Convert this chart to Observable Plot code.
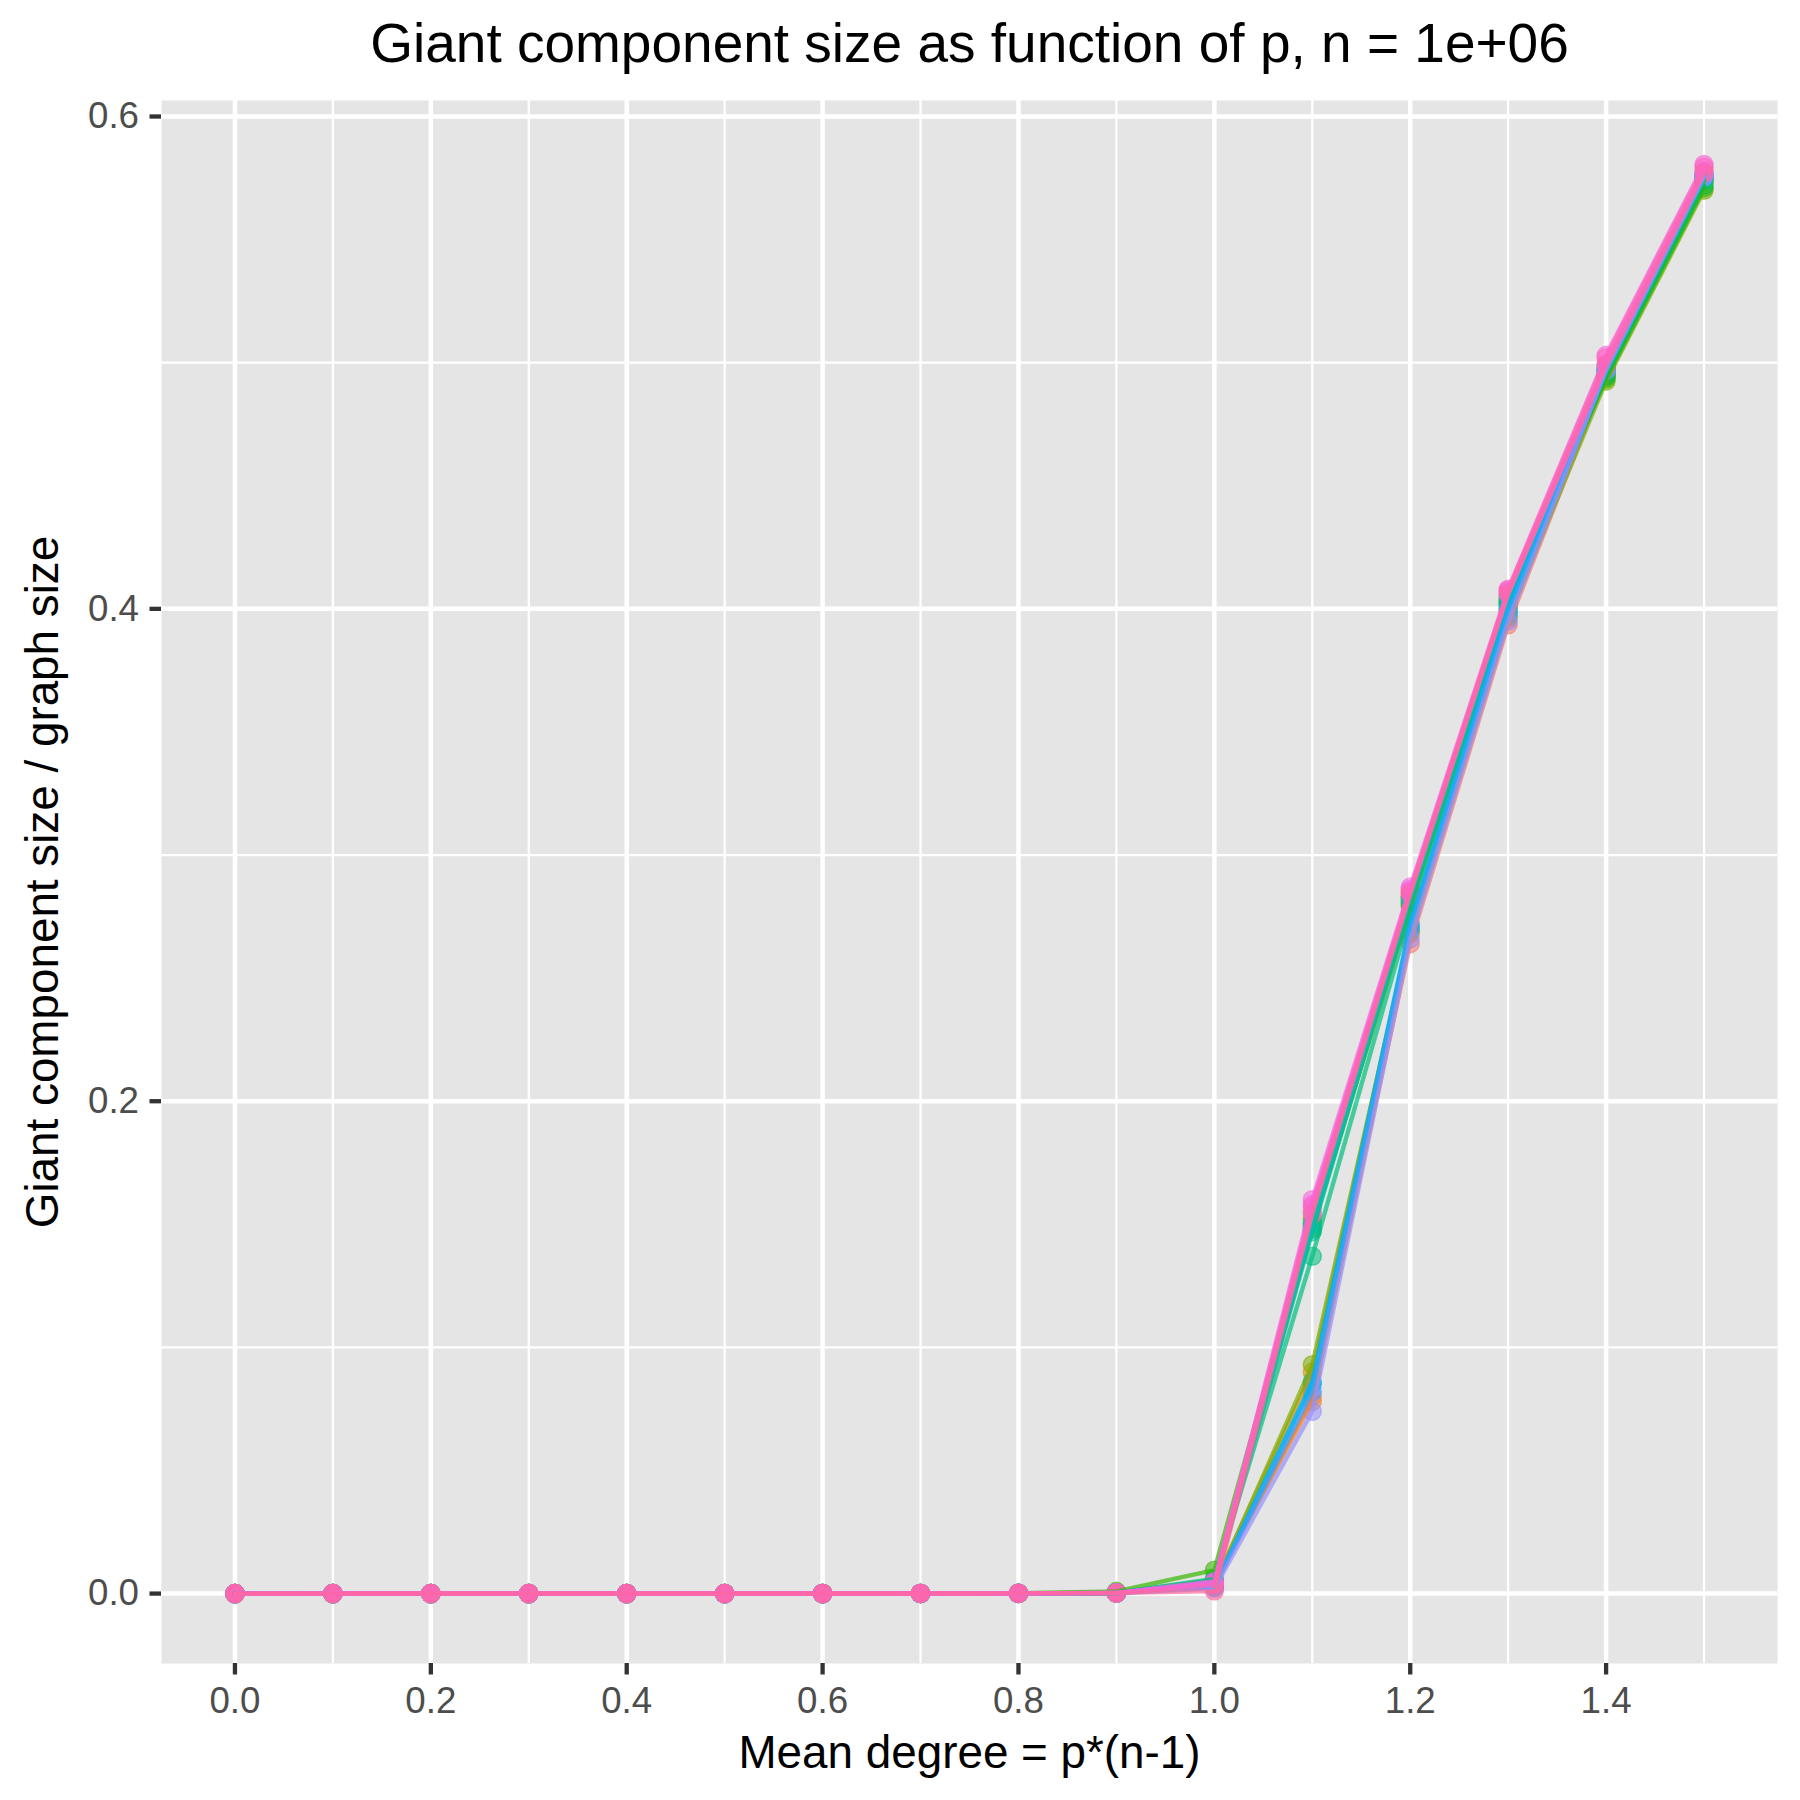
<!DOCTYPE html>
<html>
<head>
<meta charset="utf-8">
<script src="https://cdn.jsdelivr.net/npm/d3@7"></script>
<script src="https://cdn.jsdelivr.net/npm/@observablehq/plot@0.6"></script>
<style>
  html, body { margin: 0; padding: 0; background: white; }
</style>
</head>
<body>
<div id="chart"></div>
<script>
// ---- data ----
const meanDegree = [0.0, 0.1, 0.2, 0.3, 0.4, 0.5, 0.6, 0.7, 0.8, 0.9, 1.0, 1.1, 1.2, 1.3, 1.4, 1.5];

const run01 = [0.000001, 0.000005, 0.000007, 0.000010, 0.000014, 0.000020, 0.000029, 0.000044, 0.000080, 0.00024, 0.0030, 0.0800, 0.2640, 0.3935, 0.4950, 0.5745];
const run02 = [0.000001, 0.000004, 0.000008, 0.000011, 0.000015, 0.000019, 0.000031, 0.000047, 0.000088, 0.00021, 0.0045, 0.0780, 0.2680, 0.3960, 0.4955, 0.5750];
const run03 = [0.000001, 0.000005, 0.000007, 0.000009, 0.000013, 0.000021, 0.000030, 0.000043, 0.000079, 0.00027, 0.0040, 0.0900, 0.2700, 0.3990, 0.4950, 0.5745];
const run04 = [0.000001, 0.000004, 0.000006, 0.000010, 0.000016, 0.000022, 0.000028, 0.000046, 0.000091, 0.00025, 0.0035, 0.1490, 0.2790, 0.4020, 0.4945, 0.5740];
const run05 = [0.000001, 0.000005, 0.000007, 0.000011, 0.000014, 0.000018, 0.000032, 0.000045, 0.000083, 0.00030, 0.0050, 0.1500, 0.2810, 0.4030, 0.4960, 0.5735];
const run06 = [0.000001, 0.000004, 0.000008, 0.000010, 0.000015, 0.000020, 0.000027, 0.000049, 0.000086, 0.00022, 0.0030, 0.0930, 0.2690, 0.3970, 0.4925, 0.5700];
const run07 = [0.000001, 0.000005, 0.000007, 0.000012, 0.000017, 0.000023, 0.000033, 0.000051, 0.000110, 0.00090, 0.0095, 0.1520, 0.2830, 0.4040, 0.4935, 0.5710];
const run08 = [0.000001, 0.000004, 0.000006, 0.000009, 0.000014, 0.000019, 0.000029, 0.000042, 0.000081, 0.00026, 0.0055, 0.1480, 0.2800, 0.4020, 0.4945, 0.5720];
const run09 = [0.000001, 0.000005, 0.000007, 0.000010, 0.000013, 0.000021, 0.000030, 0.000048, 0.000093, 0.00033, 0.0060, 0.1370, 0.2760, 0.4010, 0.4960, 0.5740];
const run10 = [0.000001, 0.000004, 0.000008, 0.000011, 0.000016, 0.000020, 0.000031, 0.000044, 0.000084, 0.00023, 0.0040, 0.1470, 0.2820, 0.4030, 0.4970, 0.5750];
const run11 = [0.000001, 0.000005, 0.000007, 0.000010, 0.000015, 0.000018, 0.000028, 0.000046, 0.000087, 0.00028, 0.0035, 0.1500, 0.2830, 0.4050, 0.4975, 0.5755];
const run12 = [0.000001, 0.000004, 0.000006, 0.000011, 0.000014, 0.000022, 0.000030, 0.000043, 0.000082, 0.00024, 0.0025, 0.0850, 0.2710, 0.3990, 0.4970, 0.5760];
const run13 = [0.000001, 0.000005, 0.000007, 0.000009, 0.000013, 0.000020, 0.000029, 0.000047, 0.000090, 0.00029, 0.0030, 0.0860, 0.2720, 0.4000, 0.4980, 0.5765];
const run14 = [0.000001, 0.000004, 0.000008, 0.000010, 0.000016, 0.000019, 0.000032, 0.000045, 0.000085, 0.00022, 0.0030, 0.0820, 0.2700, 0.3980, 0.4975, 0.5760];
const run15 = [0.000001, 0.000005, 0.000007, 0.000012, 0.000015, 0.000021, 0.000027, 0.000042, 0.000079, 0.00020, 0.0020, 0.0740, 0.2660, 0.3950, 0.4970, 0.5755];
const run16 = [0.000001, 0.000004, 0.000006, 0.000010, 0.000014, 0.000020, 0.000031, 0.000048, 0.000088, 0.00027, 0.0040, 0.1550, 0.2850, 0.4060, 0.4985, 0.5770];
const run17 = [0.000001, 0.000005, 0.000007, 0.000011, 0.000013, 0.000022, 0.000030, 0.000044, 0.000086, 0.00031, 0.0050, 0.1580, 0.2860, 0.4070, 0.4995, 0.5780];
const run18 = [0.000001, 0.000004, 0.000008, 0.000009, 0.000016, 0.000019, 0.000028, 0.000046, 0.000092, 0.00026, 0.0045, 0.1600, 0.2870, 0.4080, 0.5030, 0.5805];
const run19 = [0.000001, 0.000005, 0.000007, 0.000010, 0.000015, 0.000021, 0.000029, 0.000043, 0.000083, 0.00023, 0.0035, 0.1570, 0.2850, 0.4075, 0.5020, 0.5795];
const run20 = [0.000001, 0.000004, 0.000006, 0.000011, 0.000014, 0.000018, 0.000030, 0.000045, 0.000081, 0.00021, 0.0010, 0.1540, 0.2840, 0.4060, 0.4990, 0.5770];

const runNames = ["run01","run02","run03","run04","run05","run06","run07","run08","run09","run10",
                  "run11","run12","run13","run14","run15","run16","run17","run18","run19","run20"];
const runValues = [run01,run02,run03,run04,run05,run06,run07,run08,run09,run10,
                   run11,run12,run13,run14,run15,run16,run17,run18,run19,run20];

const xMajorTicks = [0.0, 0.2, 0.4, 0.6, 0.8, 1.0, 1.2, 1.4];
const xMinorTicks = [0.1, 0.3, 0.5, 0.7, 0.9, 1.1, 1.3, 1.5];
const yMajorTicks = [0.0, 0.2, 0.4, 0.6];
const yMinorTicks = [0.1, 0.3, 0.5];

const titleText = "Giant component size as function of p, n = 1e+06";
const xTitle = "Mean degree = p*(n-1)";
const yTitle = "Giant component size / graph size";

// ---- tidy table ----
const table = [];
runNames.forEach((name, i) => {
  runValues[i].forEach((v, j) => table.push({run: name, x: meanDegree[j], y: v}));
});

// ---- ggplot-like hue palette (polarLUV -> sRGB) ----
function hclHex(h, c, l) {
  const hr = h * Math.PI / 180;
  const U = c * Math.cos(hr), V = c * Math.sin(hr);
  const Xn = 95.047, Yn = 100, Zn = 108.883;
  const Y = l > 8 ? Yn * Math.pow((l + 16) / 116, 3) : Yn * l / 903.3;
  const t = Xn + 15 * Yn + 3 * Zn;
  const un = 4 * Xn / t, vn = 9 * Yn / t;
  const u = U / (13 * l) + un, v = V / (13 * l) + vn;
  const X = 9 * Y * u / (4 * v);
  const Z = -X / 3 - 5 * Y + 3 * Y / v;
  const x = X / 100, y = Y / 100, z = Z / 100;
  const lin = [
    3.240479 * x - 1.537150 * y - 0.498535 * z,
    -0.969256 * x + 1.875992 * y + 0.041556 * z,
    0.055648 * x - 0.204043 * y + 1.057311 * z
  ];
  const g = lin.map(q => {
    const s = q <= 0.0031308 ? 12.92 * q : 1.055 * Math.pow(q, 1 / 2.4) - 0.055;
    return Math.round(Math.max(0, Math.min(1, s)) * 255);
  });
  return "#" + g.map(q => q.toString(16).padStart(2, "0")).join("");
}
const n = runNames.length;
const palette = runNames.map((_, i) => hclHex(15 + 360 * i / n, 100, 65));

const font = "'Liberation Sans', Arial, Helvetica, sans-serif";

const chart = Plot.plot({
  width: 1800,
  height: 1800,
  marginLeft: 161,
  marginRight: 23,
  marginTop: 100,
  marginBottom: 137,
  style: {fontFamily: font, background: "white", overflow: "visible"},
  x: {domain: [-0.075, 1.575], axis: null},
  y: {domain: [-0.0284, 0.6065], axis: null},
  color: {domain: runNames, range: palette},
  marks: [
    Plot.frame({fill: "#E5E5E5", stroke: null}),
    Plot.ruleX(xMinorTicks, {stroke: "white", strokeWidth: 2.3}),
    Plot.ruleY(yMinorTicks, {stroke: "white", strokeWidth: 2.3}),
    Plot.ruleX(xMajorTicks, {stroke: "white", strokeWidth: 4.5}),
    Plot.ruleY(yMajorTicks, {stroke: "white", strokeWidth: 4.5}),
    Plot.dot(table, {x: "x", y: "y", r: 9, fill: "run", fillOpacity: 0.55,
                     stroke: "run", strokeOpacity: 0.55, strokeWidth: 1.5}),
    Plot.line(table, {x: "x", y: "y", z: "run", stroke: "run", strokeOpacity: 0.7,
                      strokeWidth: 4.4}),
    Plot.axisX(xMajorTicks, {tickSize: 11.5, tickPadding: 12, fontSize: 36.7,
                             stroke: "#333333", strokeWidth: 4.3, fill: "#4D4D4D",
                             tickFormat: d => d.toFixed(1), label: null}),
    Plot.axisY(yMajorTicks, {tickSize: 11.5, tickPadding: 11, fontSize: 36.7,
                             stroke: "#333333", strokeWidth: 4.3, fill: "#4D4D4D",
                             tickFormat: d => d.toFixed(1), label: null}),
    Plot.text([titleText], {text: d => d, frameAnchor: "top", dy: -56, fontSize: 55,
                            fill: "black", lineAnchor: "middle", textAnchor: "middle"}),
    Plot.text([xTitle], {text: d => d, frameAnchor: "bottom", dy: 90, fontSize: 45.8,
                         fill: "black", lineAnchor: "middle", textAnchor: "middle"}),
    Plot.text([yTitle], {text: d => d, frameAnchor: "left", dx: -118, rotate: -90,
                         fontSize: 45.8, fill: "black", lineAnchor: "middle", textAnchor: "middle"})
  ]
});
document.getElementById("chart").appendChild(chart);
</script>
</body>
</html>
